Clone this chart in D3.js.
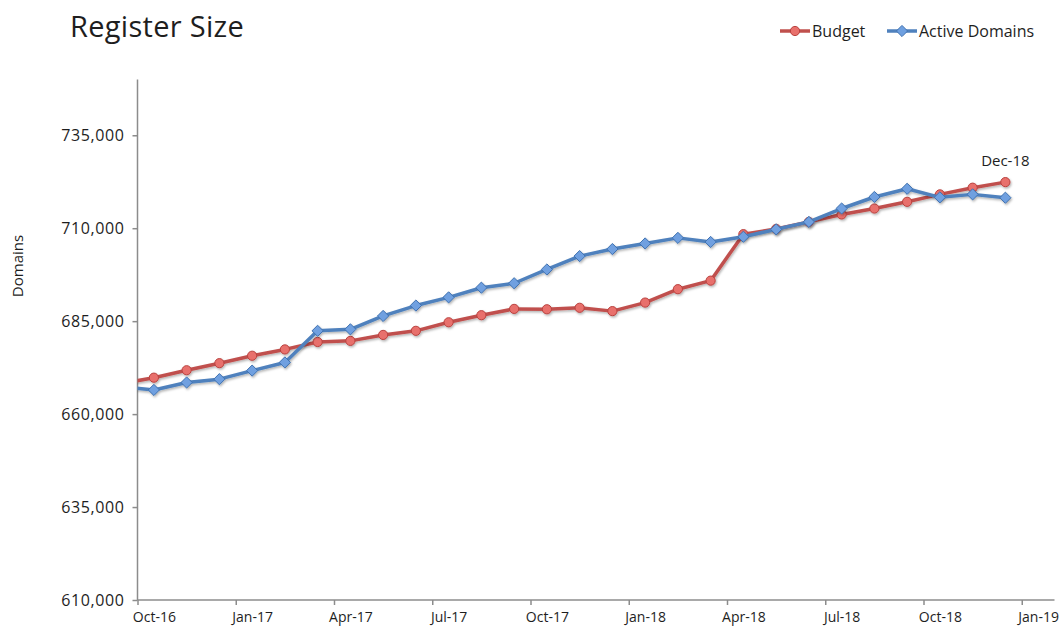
<!DOCTYPE html>
<html>
<head>
<meta charset="utf-8">
<script src="https://cdn.jsdelivr.net/npm/d3@7"></script>
<style>
  body { margin: 0; background: #fff; }
  svg text { font-family: "Open Sans", Lato, sans-serif; fill: #1e1e1e; }
</style>
</head>
<body>
<div id="chart"></div>
<script>
// months (Sep-16 is clipped by the axis, as in the original)
var months = ['Sep-16', 'Oct-16', 'Nov-16', 'Dec-16', 'Jan-17', 'Feb-17', 'Mar-17', 'Apr-17', 'May-17',
  'Jun-17', 'Jul-17', 'Aug-17', 'Sep-17', 'Oct-17', 'Nov-17', 'Dec-17', 'Jan-18', 'Feb-18', 'Mar-18',
  'Apr-18', 'May-18', 'Jun-18', 'Jul-18', 'Aug-18', 'Sep-18', 'Oct-18', 'Nov-18', 'Dec-18'];

var budget = [668200, 669800, 671800, 673700, 675700, 677400, 679400, 679700, 681300,
  682400, 684700, 686600, 688300, 688200, 688600, 687700, 690000, 693600, 695900,
  708400, 709800, 711700, 713700, 715300, 717100, 719100, 720900, 722400];

var active_domains = [667400, 666500, 668500, 669400, 671700, 673900, 682400, 682800, 686400,
  689200, 691400, 694000, 695200, 698900, 702500, 704400, 705900, 707400, 706300,
  707700, 709700, 711700, 715300, 718400, 720600, 718300, 719100, 718200];

// x axis tick labels, one every 3 months starting at Oct-16
var tick_labels = ['Oct-16', 'Jan-17', 'Apr-17', 'Jul-17', 'Oct-17', 'Jan-18', 'Apr-18', 'Jul-18', 'Oct-18', 'Jan-19'];
var y_ticks = [610000, 635000, 660000, 685000, 710000, 735000];

var chart_width = 1064;
var chart_height = 628;
var plot_left = 137.5, plot_right = 1054.5, plot_top = 79.5, plot_bottom = 600;

var svg = d3.select('#chart')
  .append('svg')
  .attr('width', chart_width)
  .attr('height', chart_height);

var defs = svg.append('defs');
defs.append('clipPath').attr('id', 'plot-clip')
  .append('rect')
  .attr('x', plot_left).attr('y', 0)
  .attr('width', plot_right - plot_left).attr('height', chart_height);

var shadow = defs.append('filter').attr('id', 'shadow')
  .attr('x', '-20%').attr('y', '-20%').attr('width', '140%').attr('height', '140%');
shadow.append('feDropShadow')
  .attr('dx', 1).attr('dy', 1.5).attr('stdDeviation', 1)
  .attr('flood-color', '#000').attr('flood-opacity', 0.3);

// month index: 0 = Oct-16 (start of its slot), points sit mid-slot
var x_scale = d3.scaleLinear().domain([0, 28]).range([plot_left, plot_right]);
var y_scale = d3.scaleLinear().domain([610000, 750000]).range([plot_bottom, plot_top]);

function month_x(i) {
  return x_scale(i - 1 + 0.5);
}

// axes
var y_axis = d3.axisLeft(y_scale)
  .tickValues(y_ticks)
  .tickSize(5)
  .tickPadding(8)
  .tickFormat(d3.format(','));

var y_g = svg.append('g')
  .attr('transform', 'translate(' + plot_left + ',0)')
  .call(y_axis);
y_g.select('.domain').attr('stroke', '#8c8c8c').attr('stroke-width', 1.5)
  .attr('d', 'M0,' + plot_top + 'V' + plot_bottom);
y_g.selectAll('.tick line').attr('stroke', '#8c8c8c').attr('stroke-width', 1.5);
y_g.selectAll('.tick text')
  .style('font-size', '16px')
  .style('letter-spacing', '0.6px')
  .attr('fill', '#333');

var tick_values = d3.range(0, 28, 3);
var x_axis = d3.axisBottom(x_scale)
  .tickValues(tick_values)
  .tickSize(5)
  .tickPadding(7)
  .tickFormat((d, i) => tick_labels[i]);

var x_g = svg.append('g')
  .attr('transform', 'translate(0,' + plot_bottom + ')')
  .call(x_axis);
x_g.select('.domain').attr('stroke', '#8c8c8c').attr('stroke-width', 1.5)
  .attr('d', 'M' + plot_left + ',0H' + plot_right);
x_g.selectAll('.tick line').attr('stroke', '#8c8c8c').attr('stroke-width', 1.5);
x_g.selectAll('.tick text')
  .style('font-size', '14px')
  .attr('fill', '#333')
  .attr('x', x_scale(0.5) - x_scale(0));

// axis title
svg.append('text')
  .attr('transform', 'translate(23,266) rotate(-90)')
  .attr('text-anchor', 'middle')
  .style('font-size', '15px')
  .text('Domains');

// title
svg.append('text')
  .attr('x', 70).attr('y', 37)
  .style('font-size', '29px')
  .style('letter-spacing', '0.3px')
  .text('Register Size');

// series
var series = [
  {name: 'Budget', values: budget, line: '#c0504d', fill: '#e8706c', stroke: '#b9413e', marker: 'circle'},
  {name: 'Active Domains', values: active_domains, line: '#4f81bd', fill: '#6fa0e0', stroke: '#3f71b0', marker: 'diamond'}
];

var line = d3.line()
  .x((d, i) => month_x(i))
  .y((d) => y_scale(d));

var plot = svg.append('g').attr('clip-path', 'url(#plot-clip)');

function draw_marker(g, s, x, y) {
  if (s.marker == 'circle') {
    g.append('circle')
      .attr('cx', x).attr('cy', y).attr('r', 4.6)
      .attr('fill', s.fill).attr('stroke', s.stroke).attr('stroke-width', 1);
  } else {
    g.append('path')
      .attr('d', d3.symbol(d3.symbolDiamond2, 80)())
      .attr('transform', 'translate(' + x + ',' + y + ')')
      .attr('fill', s.fill).attr('stroke', s.stroke).attr('stroke-width', 1);
  }
}

series.forEach(function(s) {
  var g = plot.append('g').attr('filter', 'url(#shadow)');
  g.append('path')
    .datum(s.values)
    .attr('d', line)
    .attr('fill', 'none')
    .attr('stroke', s.line)
    .attr('stroke-width', 3.5)
    .attr('stroke-linejoin', 'round');
  s.values.forEach(function(v, i) {
    if (i == 0) return; // Sep-16 is outside the plot
    draw_marker(g, s, month_x(i), y_scale(v));
  });
});

// data label on the last budget point
svg.append('text')
  .attr('x', month_x(months.length - 1))
  .attr('y', y_scale(budget[budget.length - 1]) - 16)
  .attr('text-anchor', 'middle')
  .style('font-size', '15px')
  .text(months[months.length - 1]);

// legend
var legend_items = [{s: series[0], x: 780}, {s: series[1], x: 887}];
legend_items.forEach(function(item) {
  var g = svg.append('g');
  g.append('line')
    .attr('x1', item.x).attr('x2', item.x + 30)
    .attr('y1', 31).attr('y2', 31)
    .attr('stroke', item.s.line).attr('stroke-width', 3.5);
  draw_marker(g, item.s, item.x + 15, 31);
  g.append('text')
    .attr('x', item.x + 32).attr('y', 36.5)
    .style('font-size', '16px')
    .text(item.s.name);
});
</script>
</body>
</html>
